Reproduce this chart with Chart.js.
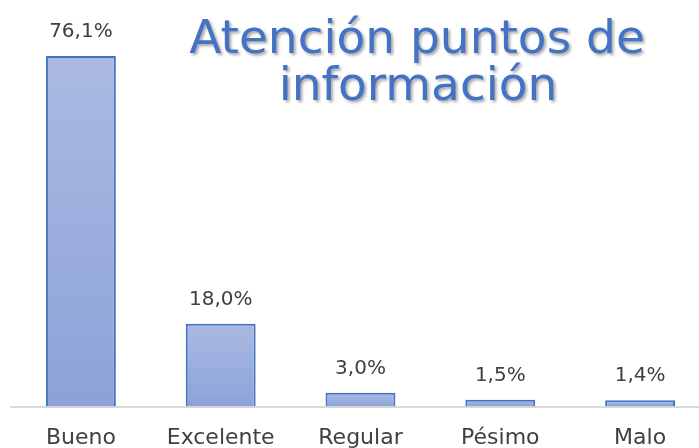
<!DOCTYPE html>
<html>
<head>
<meta charset="utf-8">
<script src="https://cdn.jsdelivr.net/npm/chart.js@4"></script>
<style>
  html, body { margin: 0; padding: 0; background: #fff; overflow: hidden; }
  #wrap { width: 712px; height: 469px; }
</style>
</head>
<body>
<div id="wrap"><canvas id="chart"></canvas></div>
<script>
// Chart data
const categories = ['Bueno', 'Excelente', 'Regular', 'Pésimo', 'Malo'];
const percentValues = [76.1, 18.0, 3.0, 1.5, 1.4];
const titleLines = ['Atención puntos de', 'información'];

const colors = {
    title: '#4472C4',
    barBorder: '#4472C4',
    barTop: '#AABAE2',
    barBottom: '#8CA2D8',
    text: '#404040',
    axis: '#D9D9D9'
};

const formatPercent = (v) => v.toFixed(1).replace('.', ',') + '%';

// Gradient per bar, lighter on top
const barGradient = (context) => {
    const chart = context.chart;
    const area = chart.chartArea;
    if (!area) return colors.barBottom;
    const yScale = chart.scales.y;
    const top = yScale.getPixelForValue(context.raw);
    const g = chart.ctx.createLinearGradient(0, top, 0, area.bottom);
    g.addColorStop(0, colors.barTop);
    g.addColorStop(1, colors.barBottom);
    return g;
};

// Value labels above each bar
const valueLabels = {
    id: 'valueLabels',
    afterDatasetsDraw(chart) {
        const ctx = chart.ctx;
        const meta = chart.getDatasetMeta(0);
        ctx.save();
        ctx.font = '20px "DejaVu Sans"';
        ctx.fillStyle = colors.text;
        ctx.textAlign = 'center';
        ctx.textBaseline = 'bottom';
        meta.data.forEach((bar, i) => {
            ctx.fillText(formatPercent(percentValues[i]), bar.x, bar.y - 14);
        });
        ctx.restore();
    }
};

// Title drawn inside the plot, like the original
const floatingTitle = {
    id: 'floatingTitle',
    afterDraw(chart) {
        const ctx = chart.ctx;
        ctx.save();
        ctx.font = '47px "DejaVu Sans"';
        ctx.fillStyle = colors.title;
        ctx.textAlign = 'center';
        ctx.textBaseline = 'alphabetic';
        ctx.shadowColor = 'rgba(0,0,0,0.35)';
        ctx.shadowOffsetX = 2;
        ctx.shadowOffsetY = 2;
        ctx.shadowBlur = 3;
        ctx.fillText(titleLines[0], 417, 53);
        ctx.fillText(titleLines[1], 418, 100);
        ctx.restore();
    }
};

new Chart(document.getElementById('chart'), {
    type: 'bar',
    data: {
        labels: categories,
        datasets: [{
            data: percentValues,
            backgroundColor: barGradient,
            borderColor: colors.barBorder,
            borderWidth: 2,
            borderSkipped: 'bottom',
            categoryPercentage: 1.0,
            barPercentage: 0.5
        }]
    },
    options: {
        responsive: true,
        maintainAspectRatio: false,
        animation: false,
        layout: { padding: { left: 11, right: 2, top: 38, bottom: 0 } },
        plugins: {
            legend: { display: false },
            title: { display: false },
            tooltip: { enabled: false }
        },
        scales: {
            x: {
                grid: { display: false, drawTicks: false },
                border: { display: true, color: colors.axis, width: 2 },
                ticks: {
                    color: colors.text,
                    font: { family: 'DejaVu Sans', size: 22 },
                    padding: 18
                }
            },
            y: {
                display: false,
                min: 0,
                max: 80
            }
        }
    },
    plugins: [valueLabels, floatingTitle]
});
</script>
</body>
</html>
